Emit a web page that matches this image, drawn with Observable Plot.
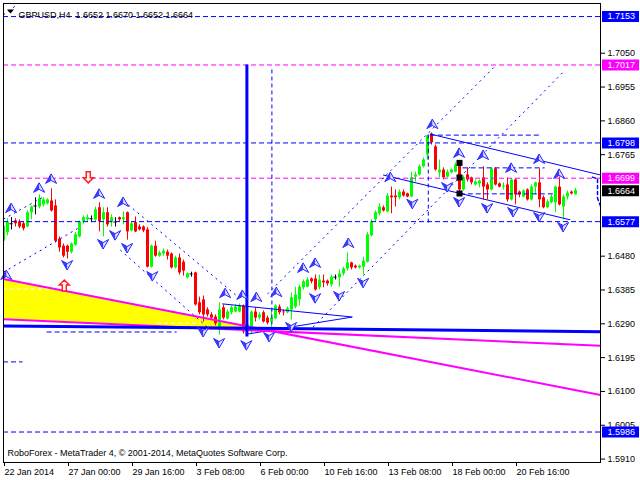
<!DOCTYPE html>
<html><head><meta charset="utf-8">
<script src="https://cdn.jsdelivr.net/npm/d3@7"></script>
<script src="https://cdn.jsdelivr.net/npm/@observablehq/plot@0.6"></script>
<style>body{margin:0;background:#fff}</style>
</head><body><div id="chart"></div>
<script>
// ---- candle data (GBPUSD H4), bar index = position ----
const candleOpen = [1.6522,1.6546,1.6571,1.6579,1.6576,1.6571,1.6562,1.6602,1.6621,1.6618,1.6624,1.6627,1.6635,1.6621,1.6528,1.6508,1.6508,1.6491,1.6511,1.6534,1.6576,1.6582,1.6585,1.6582,1.6616,1.6582,1.6602,1.6574,1.6576,1.6588,1.6582,1.6602,1.6551,1.6574,1.6562,1.6562,1.6554,1.6449,1.6508,1.6480,1.6486,1.6491,1.6486,1.6447,1.6475,1.6463,1.6419,1.6430,1.6433,1.6349,1.6357,1.6329,1.6315,1.6309,1.6281,1.6335,1.6304,1.6321,1.6323,1.6323,1.6340,1.6273,1.6267,1.6323,1.6306,1.6321,1.6306,1.6295,1.6304,1.6337,1.6323,1.6321,1.6329,1.6337,1.6357,1.6391,1.6393,1.6416,1.6416,1.6391,1.6410,1.6410,1.6399,1.6421,1.6419,1.6430,1.6444,1.6461,1.6452,1.6447,1.6449,1.6463,1.6537,1.6582,1.6599,1.6616,1.6604,1.6649,1.6649,1.6644,1.6660,1.6655,1.6646,1.6702,1.6708,1.6731,1.6764,1.6823,1.6787,1.6714,1.6722,1.6702,1.6714,1.6716,1.6742,1.6666,1.6708,1.6700,1.6680,1.6683,1.6700,1.6680,1.6666,1.6725,1.6683,1.6674,1.6680,1.6638,1.6694,1.6660,1.6646,1.6666,1.6638,1.6674,1.6686,1.6644,1.6616,1.6630,1.6630,1.6674,1.6618,1.6646,1.6660,1.6652];
const candleHigh = [1.6576,1.6585,1.6588,1.6585,1.6582,1.6576,1.6607,1.6621,1.6644,1.6652,1.6644,1.6641,1.6669,1.6638,1.6534,1.6514,1.6511,1.6517,1.6546,1.6579,1.6593,1.6596,1.6593,1.6618,1.6630,1.6616,1.6616,1.6596,1.6588,1.6590,1.6604,1.6604,1.6576,1.6590,1.6568,1.6565,1.6560,1.6511,1.6522,1.6494,1.6500,1.6497,1.6489,1.6480,1.6486,1.6469,1.6433,1.6435,1.6435,1.6365,1.6368,1.6335,1.6321,1.6315,1.6349,1.6343,1.6329,1.6340,1.6343,1.6346,1.6343,1.6295,1.6326,1.6335,1.6321,1.6326,1.6312,1.6329,1.6343,1.6343,1.6329,1.6337,1.6377,1.6393,1.6399,1.6413,1.6419,1.6419,1.6427,1.6427,1.6427,1.6413,1.6427,1.6427,1.6441,1.6449,1.6489,1.6463,1.6455,1.6455,1.6477,1.6546,1.6582,1.6607,1.6627,1.6621,1.6655,1.6674,1.6666,1.6666,1.6666,1.6657,1.6716,1.6716,1.6736,1.6756,1.6820,1.6826,1.6792,1.6750,1.6728,1.6722,1.6725,1.6742,1.6745,1.6705,1.6728,1.6702,1.6694,1.6694,1.6731,1.6686,1.6728,1.6728,1.6686,1.6686,1.6700,1.6697,1.6697,1.6663,1.6666,1.6669,1.6680,1.6688,1.6725,1.6649,1.6638,1.6652,1.6677,1.6702,1.6652,1.6663,1.6663,1.6670];
const candleLow = [1.6447,1.6537,1.6554,1.6562,1.6557,1.6551,1.6560,1.6582,1.6596,1.6613,1.6618,1.6624,1.6604,1.6517,1.6491,1.6475,1.6472,1.6486,1.6508,1.6531,1.6568,1.6574,1.6574,1.6576,1.6548,1.6534,1.6562,1.6562,1.6562,1.6576,1.6568,1.6525,1.6548,1.6546,1.6551,1.6546,1.6447,1.6447,1.6477,1.6477,1.6480,1.6469,1.6444,1.6444,1.6427,1.6424,1.6416,1.6421,1.6340,1.6315,1.6295,1.6309,1.6301,1.6284,1.6258,1.6301,1.6301,1.6315,1.6321,1.6321,1.6261,1.6264,1.6261,1.6295,1.6301,1.6292,1.6287,1.6273,1.6301,1.6315,1.6312,1.6318,1.6301,1.6332,1.6340,1.6385,1.6391,1.6402,1.6382,1.6385,1.6391,1.6396,1.6393,1.6413,1.6393,1.6424,1.6438,1.6441,1.6444,1.6444,1.6427,1.6461,1.6534,1.6576,1.6593,1.6604,1.6602,1.6599,1.6618,1.6638,1.6646,1.6644,1.6644,1.6688,1.6705,1.6728,1.6750,1.6792,1.6719,1.6700,1.6694,1.6700,1.6711,1.6714,1.6660,1.6663,1.6688,1.6680,1.6677,1.6672,1.6638,1.6638,1.6663,1.6677,1.6672,1.6666,1.6632,1.6635,1.6624,1.6644,1.6644,1.6635,1.6635,1.6652,1.6616,1.6613,1.6613,1.6627,1.6602,1.6621,1.6582,1.6638,1.6652,1.6652];
const candleClose = [1.6565,1.6576,1.6571,1.6571,1.6562,1.6557,1.6602,1.6618,1.6621,1.6641,1.6638,1.6638,1.6607,1.6522,1.6503,1.6480,1.6491,1.6514,1.6540,1.6576,1.6588,1.6588,1.6585,1.6610,1.6576,1.6602,1.6568,1.6588,1.6576,1.6582,1.6588,1.6548,1.6571,1.6548,1.6554,1.6551,1.6449,1.6508,1.6480,1.6489,1.6494,1.6480,1.6447,1.6475,1.6433,1.6438,1.6430,1.6430,1.6343,1.6321,1.6315,1.6315,1.6306,1.6290,1.6329,1.6306,1.6323,1.6335,1.6337,1.6340,1.6267,1.6287,1.6323,1.6306,1.6315,1.6295,1.6292,1.6306,1.6340,1.6321,1.6321,1.6332,1.6363,1.6371,1.6393,1.6408,1.6413,1.6408,1.6385,1.6413,1.6405,1.6402,1.6421,1.6421,1.6430,1.6444,1.6461,1.6447,1.6447,1.6452,1.6466,1.6540,1.6576,1.6602,1.6618,1.6607,1.6649,1.6644,1.6644,1.6660,1.6649,1.6646,1.6700,1.6708,1.6731,1.6750,1.6817,1.6798,1.6722,1.6722,1.6700,1.6716,1.6722,1.6736,1.6666,1.6700,1.6694,1.6686,1.6688,1.6691,1.6674,1.6666,1.6725,1.6680,1.6674,1.6677,1.6638,1.6694,1.6652,1.6652,1.6663,1.6638,1.6674,1.6686,1.6638,1.6616,1.6632,1.6646,1.6674,1.6624,1.6646,1.6657,1.6655,1.6664];

// ---- axes ----
const yTicks = [1.7050,1.6955,1.6860,1.6765,1.6480,1.6385,1.6290,1.6195,1.6100,1.6005,1.5910];
const xTickBars = [0,16,32,48,64,80,96,112,128];
const xTickLabels = ["22 Jan 2014","27 Jan 00:00","29 Jan 16:00","3 Feb 08:00","6 Feb 00:00","10 Feb 16:00","13 Feb 08:00","18 Feb 00:00","20 Feb 16:00"];
const titleText = "GBPUSD,H4\u00a0\u00a01.6652 1.6670 1.6652 1.6664";
const footerText = "RoboForex - MetaTrader 4, \u00a9 2001-2014, MetaQuotes Software Corp.";

// ---- horizontal levels ----
const levelPrices = [1.7153, 1.6798, 1.6577, 1.5986];   // blue dashed
const targetPrices = [1.7017, 1.6699];                  // magenta dashed
const currentPrice = 1.6664;

// ---- fractal arrows (bar index, price) ----
const upArrowBar   = [0.7,1.9,8.9,11.9,23.9,29.9,55.4,59.7,63.2,68.2,74.9,77.9,86.2,96.7,107.2,113.9,119.9,126.9,133.9,138.9];
const upArrowPrice = [1.6427,1.6615,1.6672,1.6697,1.6655,1.6632,1.6376,1.6371,1.6365,1.6379,1.6447,1.6461,1.6517,1.6702,1.6851,1.6770,1.6764,1.6728,1.6753,1.6711];
const downArrowBar   = [15.9,24.9,27.9,30.9,37.2,49.9,53.9,60.7,66.4,71.9,77.9,83.9,89.9,102.2,110.9,113.9,120.9,127.4,133.9,139.9];
const downArrowPrice = [1.6455,1.6514,1.6539,1.6503,1.6424,1.6267,1.6236,1.6230,1.6253,1.6281,1.6362,1.6368,1.6405,1.6627,1.6674,1.6632,1.6615,1.6604,1.6590,1.6562];
const signalDownBar = [21.2], signalDownPrice = [1.6700];
const signalUpBar = [15.2], signalUpPrice = [1.6399];
const handleBar = [114,114,114], handlePrice = [1.6742,1.6701,1.6656];

// ---- drawn objects: segments [bar1, price1, bar2, price2] ----
const channelDashed = [
  [0,1.6584,10.4,1.6649],[0,1.6435,19.2,1.6562],
  [31.2,1.6624,58.7,1.6365],[29.2,1.6497,51.7,1.6273],
  [66.0,1.6374,123.2,1.7017],[77.4,1.6281,139.9,1.6997],
  [0,1.7158,3,1.7183]
];
const channelSolid = [
  [106.7,1.6823,149.25,1.6708],[94.9,1.6708,141.7,1.6582],
  [54.7,1.6346,87.2,1.6309],[60.9,1.6261,87.2,1.6309]
];
const shortDashedH = [[10.9,43.4,1.6267],[0,4.9,1.6183],[106.7,134.7,1.6820],[114.9,135.4,1.6728],[114.2,137.9,1.6655]];
const whiteDashedH = [[0,14.75,1.6388],[38.5,50,1.6292]];
const dashedV = [[67.1,1.7003,1.6287],[106.2,1.6820,1.6573]];
const thickV = [[60.85,1.7017,1.6253]];
const magentaTrend = [[0,1.6416,149.25,1.6090],[0,1.6303,149.25,1.6228]];
const blueTrend = [[0,1.6284,149.25,1.6268]];
const edgeBar = [147.25,148.5,148.5,149.25], edgePrice = [1.6702,1.6697,1.6643,1.6621];
const fillBar = [0,67.4], fillTop = [1.6416,1.6269], fillBottom = [1.6303,1.6269];

// ---- build ----
const BLUE = "#0000ff", MAG = "#ff00ff";
const candles = candleOpen.map((o, i) => ({i, o, h: candleHigh[i], l: candleLow[i], c: candleClose[i]}));
const cColor = d => d.c > d.o ? "#00ff00" : d.c < d.o ? "#ff0000" : "#000000";
const dojis = candles.filter(d => d.c === d.o);
const ups = upArrowBar.map((b, k) => ({b, p: upArrowPrice[k]}));
const downs = downArrowBar.map((b, k) => ({b, p: downArrowPrice[k]}));
const seg = a => a.map(s => ({x1: s[0], y1: s[1], x2: s[2], y2: s[3]}));
const hseg = a => a.map(s => ({x1: s[0], x2: s[1], y: s[2]}));
const fill = fillBar.map((b, k) => ({b, t: fillTop[k], u: fillBottom[k]}));
const edge = edgeBar.map((b, k) => ({b, p: edgePrice[k]}));
const labels = [
  ...levelPrices.map(p => ({p, color: BLUE})),
  ...targetPrices.map(p => ({p, color: MAG})),
  {p: currentPrice, color: "#000000"}
];

const arrowUp = {draw(ctx){ ctx.moveTo(0,-5); ctx.lineTo(5.5,4.5); ctx.lineTo(0,1.5); ctx.lineTo(-5.5,4.5); ctx.closePath(); }};
const arrowUpHalf = {draw(ctx){ ctx.moveTo(0,-5); ctx.lineTo(0,1.5); ctx.lineTo(-5.5,4.5); ctx.closePath(); }};
const arrowDown = {draw(ctx){ ctx.moveTo(0,5); ctx.lineTo(5.5,-4.5); ctx.lineTo(0,-1.5); ctx.lineTo(-5.5,-4.5); ctx.closePath(); }};
const arrowDownHalf = {draw(ctx){ ctx.moveTo(0,5); ctx.lineTo(0,-1.5); ctx.lineTo(-5.5,-4.5); ctx.closePath(); }};
const blockDown = {draw(ctx){ ctx.moveTo(-2,-6); ctx.lineTo(2,-6); ctx.lineTo(2,0); ctx.lineTo(5,0); ctx.lineTo(0,5); ctx.lineTo(-5,0); ctx.lineTo(-2,0); ctx.closePath(); }};
const blockUp = {draw(ctx){ ctx.moveTo(-2,6); ctx.lineTo(2,6); ctx.lineTo(2,0); ctx.lineTo(5,0); ctx.lineTo(0,-5); ctx.lineTo(-5,0); ctx.lineTo(-2,0); ctx.closePath(); }};
const labelBox = {draw(ctx){ ctx.rect(1.5,-5.5,37,11); }};
const menuTri = {draw(ctx){ ctx.moveTo(-3.5,-2); ctx.lineTo(3.5,-2); ctx.lineTo(0,2); ctx.closePath(); }};

const chart = Plot.plot({
  width: 640, height: 480,
  marginLeft: 3, marginRight: 40, marginTop: 3, marginBottom: 18,
  style: {fontFamily: "'Liberation Sans', Arial, sans-serif", fontSize: "9px", background: "#ffffff", color: "#000000", overflow: "visible"},
  x: {domain: [0, 149.25]},
  y: {domain: [1.59004, 1.71897]},
  marks: [
    Plot.areaY(fill, {x: "b", y1: "u", y2: "t", fill: "#ffff00"}),
    Plot.ruleY(hseg(whiteDashedH), {y: "y", x1: "x1", x2: "x2", stroke: "#ffffff", strokeDasharray: "4,3"}),
    // candles
    Plot.ruleX(candles, {x: "i", y1: "l", y2: "h", stroke: cColor, strokeWidth: 1, clip: true}),
    Plot.ruleX(candles, {x: "i", y1: "o", y2: "c", stroke: cColor, strokeWidth: 3, clip: true}),
    Plot.ruleY(dojis, {y: "o", x1: d => d.i - 0.4, x2: d => d.i + 0.4, stroke: "#000000", clip: true}),
    // levels
    Plot.ruleY(levelPrices, {stroke: BLUE, strokeDasharray: "5,3"}),
    Plot.ruleY(targetPrices, {stroke: MAG, strokeDasharray: "5,3"}),
    Plot.ruleY(hseg(shortDashedH), {y: "y", x1: "x1", x2: "x2", stroke: BLUE, strokeDasharray: "5,3"}),
    Plot.ruleX(dashedV, {x: d => d[0], y1: d => d[1], y2: d => d[2], stroke: BLUE, strokeDasharray: "4,3"}),
    Plot.line(edge, {x: "b", y: "p", stroke: BLUE, strokeDasharray: "3,3"}),
    Plot.link(seg(channelDashed), {x1: "x1", y1: "y1", x2: "x2", y2: "y2", stroke: BLUE, strokeDasharray: "2,4"}),
    Plot.link(seg(channelSolid), {x1: "x1", y1: "y1", x2: "x2", y2: "y2", stroke: BLUE, strokeWidth: 1}),
    Plot.link(seg(magentaTrend), {x1: "x1", y1: "y1", x2: "x2", y2: "y2", stroke: MAG, strokeWidth: 2}),
    Plot.link(seg(blueTrend), {x1: "x1", y1: "y1", x2: "x2", y2: "y2", stroke: BLUE, strokeWidth: 3}),
    Plot.ruleX(thickV, {x: d => d[0], y1: d => d[1], y2: d => d[2], stroke: BLUE, strokeWidth: 3}),
    // arrows
    Plot.dot(ups, {x: "b", y: "p", symbol: arrowUp, fill: "#e4e4ff", stroke: "#2020ff", strokeWidth: 1}),
    Plot.dot(ups, {x: "b", y: "p", symbol: arrowUpHalf, fill: "#3a3aff", stroke: "none"}),
    Plot.dot(downs, {x: "b", y: "p", symbol: arrowDown, fill: "#e4e4ff", stroke: "#2020ff", strokeWidth: 1}),
    Plot.dot(downs, {x: "b", y: "p", symbol: arrowDownHalf, fill: "#3a3aff", stroke: "none"}),
    Plot.dot(signalDownBar.map((b,k)=>({b,p:signalDownPrice[k]})), {x: "b", y: "p", symbol: blockDown, fill: "#ffffff", stroke: "#ff2020"}),
    Plot.dot(signalUpBar.map((b,k)=>({b,p:signalUpPrice[k]})), {x: "b", y: "p", symbol: blockUp, fill: "#ffffff", stroke: "#ff2020"}),
    Plot.dot(handleBar.map((b,k)=>({b,p:handlePrice[k]})), {x: "b", y: "p", symbol: "square", r: 3.4, fill: "#000000"}),
    // frame & axes
    Plot.frame({stroke: "#000000"}),
    Plot.axisY(yTicks, {anchor: "right", tickSize: 4, tickPadding: 3, tickFormat: d => d.toFixed(4), label: null}),
    Plot.axisX(xTickBars, {anchor: "bottom", tickSize: 4, tickPadding: 2, tickFormat: d => xTickLabels[xTickBars.indexOf(d)], textAnchor: "start", dx: 1, label: null}),
    // price labels
    Plot.dot(labels, {y: "p", frameAnchor: "right", symbol: labelBox, fill: "color", stroke: "none"}),
    Plot.text(labels, {y: "p", frameAnchor: "right", text: d => d.p.toFixed(4), dx: 7, textAnchor: "start", fill: "#ffffff"}),
    // texts
    Plot.dot([0], {frameAnchor: "top-left", dx: 7, dy: 8, symbol: menuTri, fill: "#000000", stroke: "none"}),
    Plot.text([titleText], {frameAnchor: "top-left", dx: 15, dy: 8, textAnchor: "start", fill: "#000000"}),
    Plot.text([footerText], {frameAnchor: "bottom-left", dx: 4, dy: -7, textAnchor: "start", fill: "#000000"})
  ]
});
document.getElementById("chart").appendChild(chart);
</script></body></html>
